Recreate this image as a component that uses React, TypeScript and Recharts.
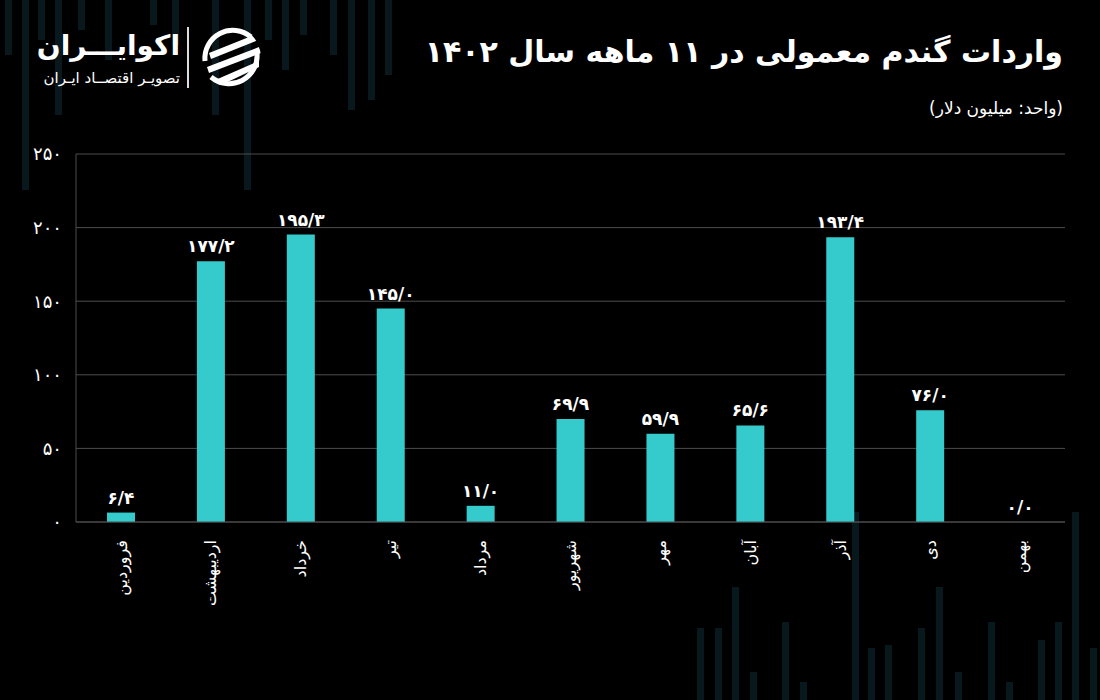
import React from "react";
import { ComposedChart, Bar, Line, XAxis, YAxis, CartesianGrid, LabelList } from "recharts";

const MONTHS = ["فروردین", "اردیبهشت", "خرداد", "تیر", "مرداد", "شهریور", "مهر", "آبان", "آذر", "دی", "بهمن"];
const IMPORTS = [6.4, 177.2, 195.3, 145.0, 11.0, 69.9, 59.9, 65.6, 193.4, 76.0, 0.0];
const Y_TICKS = [0, 50, 100, 150, 200, 250];

const TITLE = "واردات گندم معمولی در ۱۱ ماهه سال ۱۴۰۲";
const UNIT = "(واحد: میلیون دلار)";

const FONT = "'DejaVu Sans', sans-serif";
const BAR_COLOR = "#35cbcc";
const GRID = "#4d4d4d";

// decorative background stripes [left, top, height]
const TOP_STRIPES = [
  [5, 0, 55], [22, 0, 190], [38, 0, 40], [55, 0, 115], [78, 0, 30], [105, 0, 60],
  [150, 0, 25], [172, 0, 45], [212, 0, 115], [244, 0, 190], [265, 0, 40],
  [282, 0, 70], [300, 0, 35], [330, 0, 55], [348, 0, 110], [368, 0, 100], [385, 0, 75],
];
const BOTTOM_STRIPES = [
  [697, 628, 72], [715, 628, 72], [732, 587, 113], [750, 672, 28], [782, 622, 78],
  [800, 682, 18], [852, 512, 188], [868, 648, 52], [885, 645, 55], [918, 628, 72],
  [936, 587, 113], [955, 672, 28], [988, 622, 78], [1006, 682, 18], [1038, 640, 60],
  [1055, 622, 78], [1072, 512, 188], [1090, 648, 52],
];

const fa = (s: string) => s.replace(/[0-9]/g, (d) => "۰۱۲۳۴۵۶۷۸۹"[Number(d)]);

const data = MONTHS.map((m, i) => ({ month: m, value: IMPORTS[i] }));

function MonthTick(props: any) {
  const { x, y, payload } = props;
  return (
    <text
      x={x}
      y={y}
      transform={`rotate(-90, ${x}, ${y})`}
      textAnchor="end"
      dy="0.35em"
      fill="#ffffff"
      fontSize={16}
      fontFamily={FONT}
    >
      {payload.value}
    </text>
  );
}

function LogoIcon() {
  return (
    <svg width={64} height={64} viewBox="0 0 64 64" style={{ position: "absolute", left: 199, top: 25 }}>
      <defs>
        <clipPath id="lc">
          <circle cx={32} cy={32} r={30} />
        </clipPath>
      </defs>
      <path d="M 52 12 A 28 28 0 0 0 6 36" stroke="#fff" strokeWidth={5} fill="none" />
      <path d="M 12 52 A 28 28 0 0 0 58 28" stroke="#fff" strokeWidth={5} fill="none" />
      <g clipPath="url(#lc)" fill="#fff">
        <polygon points="10,28 60,8 62,14 12,34" />
        <polygon points="8,42 60,22 62,28 10,48" />
        <polygon points="14,56 60,36 60,42 18,62" />
      </g>
    </svg>
  );
}

export default function App() {
  return (
    <div
      style={{
        position: "fixed",
        left: 0,
        top: 0,
        width: 1100,
        height: 700,
        background: "#000",
        overflow: "hidden",
        fontFamily: FONT,
      }}
    >
      {TOP_STRIPES.map(([l, t, h], i) => (
        <div key={"t" + i} style={{ position: "absolute", left: l, top: t, width: 7, height: h, background: "#08181d" }} />
      ))}
      {BOTTOM_STRIPES.map(([l, t, h], i) => (
        <div key={"b" + i} style={{ position: "absolute", left: l, top: t, width: 7, height: h, background: "#08191e" }} />
      ))}

      {/* logo */}
      <div
        dir="rtl"
        style={{ position: "absolute", right: 1100 - 180, top: 28, color: "#fff", fontSize: 28, fontWeight: "bold", whiteSpace: "nowrap", lineHeight: "36px" }}
      >
        اکوایـــران
      </div>
      <div
        dir="rtl"
        style={{ position: "absolute", right: 1100 - 180, top: 68, color: "#fff", fontSize: 15, whiteSpace: "nowrap", lineHeight: "20px" }}
      >
        تصویـر اقتصــاد ایـران
      </div>
      <div style={{ position: "absolute", left: 187, top: 27, width: 2, height: 61, background: "#ddd" }} />
      <LogoIcon />

      {/* title */}
      <div
        dir="rtl"
        style={{ position: "absolute", right: 37, top: 32, color: "#fff", fontSize: 30, fontWeight: "bold", whiteSpace: "nowrap", lineHeight: "40px" }}
      >
        {TITLE}
      </div>
      <div
        dir="rtl"
        style={{ position: "absolute", right: 37, top: 95, color: "#fff", fontSize: 17, whiteSpace: "nowrap", lineHeight: "26px" }}
      >
        {UNIT}
      </div>

      <div style={{ position: "absolute", left: 0, top: 0 }}>
        <ComposedChart
          width={1100}
          height={700}
          data={data}
          margin={{ top: 154, right: 35, bottom: 78, left: 16 }}
        >
          <CartesianGrid vertical={false} stroke={GRID} />
          <XAxis
            dataKey="month"
            interval={0}
            height={100}
            axisLine={{ stroke: GRID }}
            tickLine={false}
            tickSize={0}
            tickMargin={18}
            tick={<MonthTick />}
          />
          <YAxis
            domain={[0, 250]}
            ticks={Y_TICKS}
            width={60}
            axisLine={{ stroke: GRID }}
            tickLine={false}
            tickSize={0}
            tickMargin={14}
            tick={{ fill: "#fff", fontSize: 18, fontFamily: FONT }}
            tickFormatter={(v: number) => fa(String(v))}
          />
          <YAxis
            yAxisId="frame"
            orientation="right"
            domain={[0, 250]}
            width={0}
            tick={false}
            tickLine={false}
            axisLine={{ stroke: GRID }}
          />
          <Bar dataKey="value" fill={BAR_COLOR} barSize={28} isAnimationActive={false} />
          <Line
            dataKey="value"
            stroke="none"
            dot={false}
            activeDot={false}
            legendType="none"
            isAnimationActive={false}
          >
            <LabelList
              dataKey="value"
              position="top"
              offset={9}
              fill="#fff"
              fontSize={17}
              fontWeight="bold"
              fontFamily={FONT}
              formatter={(v: any) => fa(Number(v).toFixed(1).replace(".", "/"))}
            />
          </Line>
        </ComposedChart>
      </div>
    </div>
  );
}
